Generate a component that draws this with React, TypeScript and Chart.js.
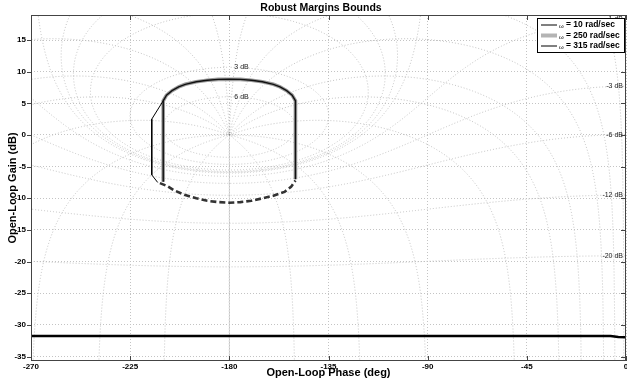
import React, { useEffect, useRef } from 'react';
import { Chart, registerables } from 'chart.js';
Chart.register(...registerables);

const FONT = "'Liberation Sans', Arial, Helvetica, sans-serif";

// Axes
const X_MIN = -270;
const X_MAX = 0;
const Y_MIN = -35.7;
const Y_MAX = 18.95;
const X_TICKS = [-270, -225, -180, -135, -90, -45, 0];
const Y_TICKS = [-35, -30, -25, -20, -15, -10, -5, 0, 5, 10, 15];

// Robust margin bound (upper arc), shared by the 250 and 315 rad/sec bounds
const TOP_ARC_PHASE = [-210, -208.5, -206, -203, -200, -195, -190, -185, -180, -175, -170, -165, -160, -157, -154, -151.5, -150];
const TOP_ARC_GAIN = [5.4, 6.3, 7.0, 7.6, 8.0, 8.4, 8.65, 8.78, 8.8, 8.78, 8.65, 8.4, 8.0, 7.6, 7.0, 6.3, 5.4];
const LEFT_EDGE_PHASE = -210;
const RIGHT_EDGE_PHASE = -150;
const LEFT_EDGE_BOTTOM = -7.4;
const RIGHT_EDGE_BOTTOM = -7.0;

// Lower dashed arc
const BOTTOM_PHASE = [-211.5, -208, -205, -200, -195, -190, -185, -180, -175, -170, -165, -160, -155, -152, -150];
const BOTTOM_GAIN = [-7.6, -8.1, -8.75, -9.5, -10.0, -10.4, -10.6, -10.7, -10.6, -10.4, -10.0, -9.6, -9.0, -8.2, -7.2];

// 10 rad/sec bound (left side differs)
const W10_PHASE = [-210, -215.2, -215.2, -212.5];
const W10_GAIN = [5.4, 2.5, -6.3, -7.5];

// Low-gain bound line
const FLOOR_PHASE = [-270, -7, -3.5, 0];
const FLOOR_GAIN = [-31.75, -31.75, -31.9, -31.95];

const LEGEND_LABELS = ['= 10 rad/sec', '= 250 rad/sec', '= 315 rad/sec'];

// Nichols grid levels
const NG_MAG_DB = [6, 3, 1, 0.5, 0.25, 0, -1, -3, -6, -12, -20, -40];
const NG_PHASE = [-1, -5, -10, -20, -30, -50, -90, -120, -150, -180];
const NG_TOP_LABELS = [6, 3];
const NG_RIGHT_LABELS = [-1, -3, -6, -12, -20];

type P = { x: number; y: number };
const zip = (xs: number[], ys: number[]): P[] => xs.map((x, i) => ({ x, y: ys[i] }));

function openLoop(M: number, phiDeg: number): P {
  const p = (phiDeg * Math.PI) / 180;
  const tr = M * Math.cos(p);
  const ti = M * Math.sin(p);
  const dr = 1 - tr;
  const di = -ti;
  const den = dr * dr + di * di;
  const gr = (tr * dr + ti * di) / den;
  const gi = (ti * dr - tr * di) / den;
  let ph = (Math.atan2(gi, gr) * 180) / Math.PI;
  if (ph > 0) ph -= 360;
  return { x: ph, y: 20 * Math.log10(Math.hypot(gr, gi)) };
}

function magContour(mDb: number): P[] {
  const M = Math.pow(10, mDb / 20);
  const pts: P[] = [];
  for (let phi = -0.25; phi >= -359.75; phi -= 0.25) pts.push(openLoop(M, phi));
  return pts;
}

function phaseContour(phi: number, mirror: boolean): P[] {
  const pts: P[] = [];
  for (let db = -80; db <= 80; db += 0.1) {
    const q = openLoop(Math.pow(10, db / 20), phi);
    pts.push(mirror ? { x: -360 - q.x, y: q.y } : q);
  }
  return pts;
}

const topLabelGain = (mDb: number) => {
  const M = Math.pow(10, mDb / 20);
  return 20 * Math.log10(M / (M - 1));
};
const rightLabelGain = (mDb: number) => {
  const M = Math.pow(10, mDb / 20);
  return 20 * Math.log10(M / (1 - M));
};

const decor = {
  id: 'decor',
  afterDraw(chart: any) {
    const { ctx, chartArea: a, scales } = chart;
    const x = scales.x;
    const y = scales.y;
    ctx.save();

    // Nichols grid labels
    ctx.fillStyle = '#222';
    ctx.font = `7px ${FONT}`;
    ctx.textBaseline = 'middle';
    ctx.textAlign = 'left';
    NG_TOP_LABELS.forEach((m) => {
      ctx.fillText(`${m} dB`, x.getPixelForValue(-180) + 5, y.getPixelForValue(topLabelGain(m)));
    });
    ctx.textAlign = 'right';
    NG_RIGHT_LABELS.forEach((m) => {
      ctx.fillText(`${m} dB`, a.right - 3, y.getPixelForValue(rightLabelGain(m)));
    });

    // frame
    ctx.strokeStyle = '#444';
    ctx.lineWidth = 1;
    ctx.setLineDash([]);
    ctx.strokeRect(a.left + 0.5, a.top + 0.5, a.right - a.left - 1, a.bottom - a.top - 1);

    // ticks
    ctx.beginPath();
    X_TICKS.forEach((v) => {
      const px = Math.round(x.getPixelForValue(v)) + 0.5;
      ctx.moveTo(px, a.bottom);
      ctx.lineTo(px, a.bottom - 5);
      ctx.moveTo(px, a.top);
      ctx.lineTo(px, a.top + 5);
    });
    Y_TICKS.forEach((v) => {
      const py = Math.round(y.getPixelForValue(v)) + 0.5;
      ctx.moveTo(a.left - 4, py);
      ctx.lineTo(a.left, py);
      ctx.moveTo(a.right, py);
      ctx.lineTo(a.right - 5, py);
    });
    ctx.stroke();

    // legend
    const lx = 537, ly = 18, lw = 88, lh = 35;
    ctx.fillStyle = '#fff';
    ctx.fillRect(lx, ly, lw, lh);
    ctx.strokeStyle = '#000';
    ctx.strokeRect(lx + 0.5, ly + 0.5, lw - 1, lh - 1);
    const rows = [25, 35.5, 46];
    const styles = [
      { c: '#000', w: 1 },
      { c: '#b4b4b4', w: 4 },
      { c: '#000', w: 1 },
    ];
    rows.forEach((ry, i) => {
      ctx.strokeStyle = styles[i].c;
      ctx.lineWidth = styles[i].w;
      ctx.beginPath();
      ctx.moveTo(541, ry);
      ctx.lineTo(557, ry);
      ctx.stroke();
      ctx.fillStyle = '#000';
      ctx.textAlign = 'left';
      ctx.textBaseline = 'middle';
      ctx.font = `6px ${FONT}`;
      ctx.fillText('ω', 559, ry + 1.5);
      ctx.font = `bold 8.5px ${FONT}`;
      ctx.fillText(LEGEND_LABELS[i], 566, ry);
    });

    // titles
    ctx.fillStyle = '#000';
    ctx.textAlign = 'center';
    ctx.textBaseline = 'middle';
    ctx.font = `bold 10.5px ${FONT}`;
    ctx.fillText('Robust Margins Bounds', 321, 8);
    ctx.font = `bold 11px ${FONT}`;
    ctx.fillText('Open-Loop Phase (deg)', (a.left + a.right) / 2, 373);
    ctx.save();
    ctx.translate(12.5, (a.top + a.bottom) / 2);
    ctx.rotate(-Math.PI / 2);
    ctx.fillText('Open-Loop Gain (dB)', 0, 0);
    ctx.restore();

    ctx.restore();
  },
};

export default function App() {
  const ref = useRef<HTMLCanvasElement>(null);
  useEffect(() => {
    const gridStyle = {
      borderColor: '#bdbdbd',
      borderWidth: 0.9,
      borderDash: [1, 2],
      pointRadius: 0,
      showLine: true,
      order: 20,
    };
    const gridSets: any[] = [];
    NG_MAG_DB.forEach((m) => gridSets.push({ ...gridStyle, data: magContour(m) }));
    NG_PHASE.forEach((p) => {
      gridSets.push({ ...gridStyle, data: phaseContour(p, false) });
      gridSets.push({ ...gridStyle, data: phaseContour(p, true) });
    });

    const boundPath: P[] = [
      { x: LEFT_EDGE_PHASE, y: LEFT_EDGE_BOTTOM },
      ...zip(TOP_ARC_PHASE, TOP_ARC_GAIN),
      { x: RIGHT_EDGE_PHASE, y: RIGHT_EDGE_BOTTOM },
    ];

    const chart = new Chart(ref.current!, {
      type: 'scatter',
      data: {
        datasets: [
          { label: LEGEND_LABELS[0], data: zip(W10_PHASE, W10_GAIN), borderColor: '#000', borderWidth: 1, pointRadius: 0, showLine: true, order: 1 },
          { label: LEGEND_LABELS[2], data: boundPath, borderColor: '#111', borderWidth: 1.4, pointRadius: 0, showLine: true, order: 2 },
          { label: LEGEND_LABELS[1], data: boundPath, borderColor: '#9a9a9a', borderWidth: 3.6, pointRadius: 0, showLine: true, order: 3 },
          { label: 'lower', data: zip(BOTTOM_PHASE, BOTTOM_GAIN), borderColor: '#333', borderWidth: 2.6, borderDash: [6, 3], pointRadius: 0, showLine: true, order: 4 },
          { label: 'floor', data: zip(FLOOR_PHASE, FLOOR_GAIN), borderColor: '#000', borderWidth: 2.6, pointRadius: 0, showLine: true, order: 5 },
          ...gridSets,
        ] as any,
      },
      options: {
        responsive: false,
        animation: false,
        devicePixelRatio: 1,
        events: [],
        layout: { padding: { top: 15, right: 1, left: 0, bottom: 0 } },
        plugins: { legend: { display: false }, tooltip: { enabled: false }, title: { display: false } },
        scales: {
          x: {
            type: 'linear',
            min: X_MIN,
            max: X_MAX,
            afterBuildTicks: (s: any) => { s.ticks = X_TICKS.map((v) => ({ value: v })); },
            afterFit: (s: any) => { s.height = 20; s.paddingLeft = 0; s.paddingRight = 0; },
            ticks: { autoSkip: false, maxRotation: 0, padding: 1, color: '#000', font: { family: FONT, size: 8, weight: 'bold' }, callback: (v: any) => String(v) },
            grid: { color: '#c4c4c4', lineWidth: 1, drawTicks: false },
            border: { display: false, dash: [1, 2] },
          },
          y: {
            type: 'linear',
            min: Y_MIN,
            max: Y_MAX,
            afterBuildTicks: (s: any) => { s.ticks = Y_TICKS.map((v) => ({ value: v })); },
            afterFit: (s: any) => { s.width = 31; s.paddingTop = 0; s.paddingBottom = 0; },
            ticks: { autoSkip: false, padding: 5, color: '#000', font: { family: FONT, size: 8, weight: 'bold' }, callback: (v: any) => String(v) },
            grid: { color: '#c4c4c4', lineWidth: 1, drawTicks: false },
            border: { display: false, dash: [1, 2] },
          },
        },
      } as any,
      plugins: [decor],
    });
    return () => chart.destroy();
  }, []);
  return (
    <div style={{ position: 'fixed', left: 0, top: 0, width: 627, height: 381, background: '#fff' }}>
      <canvas ref={ref} width={627} height={381} style={{ display: 'block', width: 627, height: 381 }} />
    </div>
  );
}
